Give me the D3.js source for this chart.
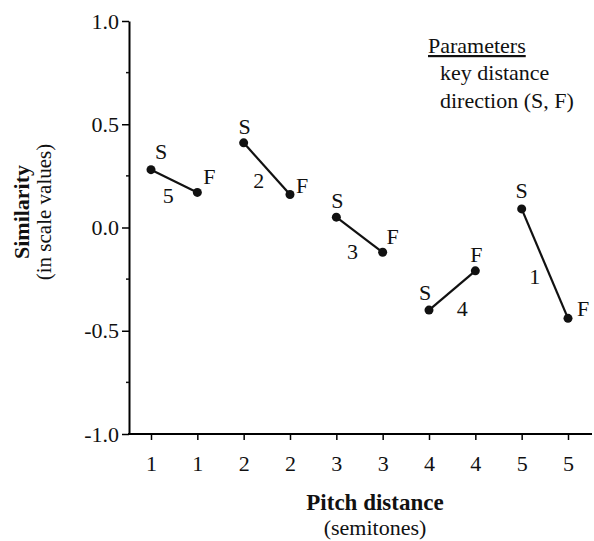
<!DOCTYPE html>
<html>
<head>
<meta charset="utf-8">
<script src="https://cdn.jsdelivr.net/npm/d3@7"></script>
<style>
  body { margin: 0; background: #fff; }
  svg text { font-family: "Liberation Serif", "DejaVu Serif", serif; fill: #111; }
</style>
</head>
<body>
<div id="chart"></div>
<script>
// pitch distance tick labels, one per S/F position
const tickLabels = ['1', '1', '2', '2', '3', '3', '4', '4', '5', '5'];
// key distance of each pair (label next to the line)
const keyDistance = ['5', '2', '3', '4', '1'];
// similarity values (scale values) for slow (S) and fast (F)
const slowValues = [0.28, 0.41, 0.05, -0.40, 0.09];
const fastValues = [0.17, 0.16, -0.12, -0.21, -0.44];
const yTicks = [-1, -0.5, 0, 0.5, 1];
const yMinor = [-0.75, -0.25, 0.25, 0.75];

// label placement (px, relative to the point / line midpoint)
const sOffset = [[10, -18], [1, -16], [1, -17], [-4, -18], [0, -18]];
const fOffset = [[12, -16], [12, -9], [10, -16], [1, -16], [15, -10]];
const kOffset = [[-6, 14], [-8, 12], [-7, 17], [10, 18], [-10, 13]];

const w = 594;
const h = 541;
const svg = d3.select('#chart').append('svg')
              .attr('width', w)
              .attr('height', h);

const x = d3.scalePoint()
            .domain(d3.range(tickLabels.length))
            .range([151, 568]);
const y = d3.scaleLinear()
            .domain([-1, 1])
            .range([434, 21]);

// y axis
const yAxis = svg.append('g')
                 .attr('transform', 'translate(129,0)')
                 .call(d3.axisLeft(y).tickValues(yTicks)
                         .tickFormat(d => d.toFixed(1).replace('\u2212', '-'))
                         .tickSize(7).tickSizeOuter(0).tickPadding(3));
yAxis.select('.domain').attr('stroke-width', 2);
yAxis.selectAll('line').attr('stroke-width', 1.5);
yAxis.selectAll('text').style('font-size', '22px');

svg.append('g')
   .selectAll('line')
   .data(yMinor)
   .enter()
   .append('line')
   .attr('x1', 126).attr('x2', 129)
   .attr('y1', d => y(d)).attr('y2', d => y(d))
   .attr('stroke', '#111').attr('stroke-width', 1.5);

// x axis
const xAxis = svg.append('g')
                 .attr('transform', 'translate(0,434)')
                 .call(d3.axisBottom(x).tickFormat(i => tickLabels[i])
                         .tickSize(6).tickSizeOuter(0).tickPadding(15));
xAxis.select('.domain').attr('d', 'M128,0H592').attr('stroke-width', 2);
xAxis.selectAll('line').attr('stroke-width', 1.5);
xAxis.selectAll('text').style('font-size', '22px');

// axis titles
svg.append('text')
   .attr('x', 375).attr('y', 510)
   .attr('text-anchor', 'middle')
   .style('font-size', '23px').style('font-weight', 'bold')
   .text('Pitch distance');
svg.append('text')
   .attr('x', 375).attr('y', 535)
   .attr('text-anchor', 'middle')
   .style('font-size', '22px')
   .text('(semitones)');

svg.append('text')
   .attr('transform', 'translate(29,212) rotate(-90)')
   .attr('text-anchor', 'middle')
   .style('font-size', '22px').style('font-weight', 'bold')
   .text('Similarity');
svg.append('text')
   .attr('transform', 'translate(51,212) rotate(-90)')
   .attr('text-anchor', 'middle')
   .style('font-size', '21px')
   .text('(in scale values)');

// legend
svg.append('text')
   .attr('x', 428).attr('y', 53)
   .style('font-size', '22px')
   .style('text-decoration', 'underline')
   .text('Parameters');
svg.append('text')
   .attr('x', 440).attr('y', 80)
   .style('font-size', '22px')
   .text('key distance');
svg.append('text')
   .attr('x', 440).attr('y', 108)
   .style('font-size', '22px')
   .text('direction (S, F)');

// pairs
const pairs = slowValues.map((s, i) => ({
    xs: x(i * 2), ys: y(s),
    xf: x(i * 2 + 1), yf: y(fastValues[i]),
    key: keyDistance[i], i: i
}));

const g = svg.append('g');

g.selectAll('line.pair')
 .data(pairs)
 .enter()
 .append('line')
 .attr('class', 'pair')
 .attr('x1', d => d.xs).attr('y1', d => d.ys)
 .attr('x2', d => d.xf).attr('y2', d => d.yf)
 .attr('stroke', '#111').attr('stroke-width', 2.2);

g.selectAll('circle.s')
 .data(pairs)
 .enter()
 .append('circle')
 .attr('class', 's')
 .attr('cx', d => d.xs).attr('cy', d => d.ys)
 .attr('r', 4.5).style('fill', '#111');

g.selectAll('circle.f')
 .data(pairs)
 .enter()
 .append('circle')
 .attr('class', 'f')
 .attr('cx', d => d.xf).attr('cy', d => d.yf)
 .attr('r', 4.5).style('fill', '#111');

g.selectAll('text.s')
 .data(pairs)
 .enter()
 .append('text')
 .attr('class', 's')
 .attr('x', d => d.xs + sOffset[d.i][0])
 .attr('y', d => d.ys + sOffset[d.i][1])
 .attr('text-anchor', 'middle').attr('dominant-baseline', 'central')
 .style('font-size', '22px')
 .text('S');

g.selectAll('text.f')
 .data(pairs)
 .enter()
 .append('text')
 .attr('class', 'f')
 .attr('x', d => d.xf + fOffset[d.i][0])
 .attr('y', d => d.yf + fOffset[d.i][1])
 .attr('text-anchor', 'middle').attr('dominant-baseline', 'central')
 .style('font-size', '22px')
 .text('F');

g.selectAll('text.k')
 .data(pairs)
 .enter()
 .append('text')
 .attr('class', 'k')
 .attr('x', d => (d.xs + d.xf) / 2 + kOffset[d.i][0])
 .attr('y', d => (d.ys + d.yf) / 2 + kOffset[d.i][1])
 .attr('text-anchor', 'middle').attr('dominant-baseline', 'central')
 .style('font-size', '22px')
 .text(d => d.key);
</script>
</body>
</html>
